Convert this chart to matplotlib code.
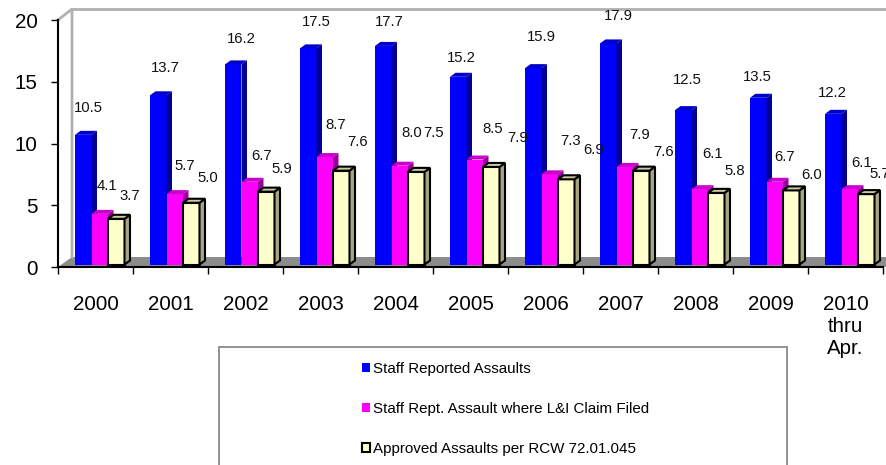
import matplotlib
matplotlib.use("Agg")
import numpy as np
import matplotlib.pyplot as plt
from matplotlib.patches import Patch, Polygon, Rectangle

plt.rcParams['font.family'] = ['Liberation Sans', 'DejaVu Sans']

# Data
years = ['2000', '2001', '2002', '2003', '2004', '2005', '2006', '2007', '2008',
         '2009', '2010\nthru\nApr.']
reported = [10.5, 13.7, 16.2, 17.5, 17.7, 15.2, 15.9, 17.9, 12.5, 13.5, 12.2]
claim = [4.1, 5.7, 6.7, 8.7, 8.0, 8.5, 7.3, 7.9, 6.1, 6.7, 6.1]
approved = [3.7, 5.0, 5.9, 7.6, 7.5, 7.9, 6.9, 7.6, 5.8, 6.0, 5.7]
names = ['Staff Reported Assaults', 'Staff Rept. Assault where L&I Claim Filed',
         'Approved Assaults per RCW 72.01.045']

# The labels were moved by hand in the original, offsets in pixels from the bar top
reported_off = [(5, 27), (7, 27), (8, 25), (8, 26), (6, 24), (3, 19), (8, 31), (10, 27),
                (4, 30), (-1, 21), (-1, 21)]
claim_off = [(7.5, 28), (10.5, 28), (12, 26), (10.5, 32), (11.5, 33), (17.5, 31),
             (20.5, 33), (14.5, 32), (12.5, 35), (9.5, 25), (11.5, 26)]
approved_off = [(14, 23), (17, 25), (16, 23), (16, 29), (17, 39), (26, 29), (27, 29),
                (22, 19), (19, 22), (20, 15), (14, 20)]

W, H = 886, 465
fig = plt.figure(figsize=(W / 100, H / 100), dpi=100)
ax = fig.add_axes([58 / W, (H - 267) / H, 825 / W, 247 / H])
ax.set_xlim(0, 11)
ax.set_ylim(0, 20)

# pixel sizes turned into data units
px = 11 / 825
py = 20 / 247
base = 2.5 * py
bar_w = 16.5 * px
dep_x, dep_y = 5.5 * px, 4 * py
wall_x, wall_y = 14 * px, 10 * py


def draw_walls():
    top = 20 + 11 * py
    ax.add_patch(Polygon([(0, 0), (wall_x, wall_y), (11.5, wall_y), (11.5, 0)],
                         fc='#8c8c8c', ec='none', clip_on=False, zorder=1))
    ax.plot([0, wall_x, wall_x], [20, top, wall_y], color='#b0b0b0', lw=2,
            clip_on=False, zorder=1)
    ax.plot([wall_x, 11.5], [top, top], color='#b0b0b0', lw=2, clip_on=False, zorder=1)


def draw_series(values, start, front, side, cap, edge, lw, offsets, z):
    x = np.arange(len(values)) + start * px
    ax.bar(x, values, bar_w, bottom=base, align='edge', color=front, edgecolor=edge,
           linewidth=lw, zorder=z)
    for xi, v, off in zip(x, values, offsets):
        y_top = v + base
        ax.add_patch(Polygon([(xi + bar_w, base), (xi + bar_w + dep_x, base + dep_y),
                              (xi + bar_w + dep_x, y_top + dep_y), (xi + bar_w, y_top)],
                             fc=side, ec=edge, lw=lw, zorder=z, clip_on=False))
        ax.add_patch(Polygon([(xi, y_top), (xi + dep_x, y_top + dep_y),
                              (xi + bar_w + dep_x, y_top + dep_y), (xi + bar_w, y_top)],
                             fc=cap, ec=edge, lw=lw, zorder=z, clip_on=False))
        ax.annotate('%.1f' % v, (xi + bar_w / 2, y_top), xytext=off,
                    textcoords='offset pixels', ha='center', va='center',
                    fontsize=10.7, color='#111111', zorder=10, annotation_clip=False)


draw_walls()
draw_series(reported, 17, '#0000ff', '#000099', '#0000cc', 'none', 0, reported_off, 3)
draw_series(claim, 33.5, '#ff00ff', '#990099', '#cc00cc', 'none', 0, claim_off, 4)
draw_series(approved, 50, '#ffffcc', '#a6a680', '#cccca0', 'black', 1.5, approved_off, 5)

# Axes
ax.set_facecolor('none')
for s in ['top', 'right']:
    ax.spines[s].set_visible(False)
for s in ['left', 'bottom']:
    ax.spines[s].set_linewidth(1.5)
    ax.spines[s].set_zorder(6)
ax.set_yticks(range(0, 21, 5))
ax.tick_params(axis='y', labelsize=14.8, length=5, width=1, pad=9.5)
ax.set_xticks(range(0, 12))
ax.set_xticklabels([])
ax.tick_params(axis='x', which='major', length=5, width=1)
ax.set_xticks(np.arange(len(years)) + 0.5, minor=True)
ax.set_xticklabels(years, minor=True, fontsize=14.8, linespacing=1.2)
ax.tick_params(axis='x', which='minor', length=0, pad=20.5)

# Legend, its box runs off the bottom of the picture
fig.add_artist(Rectangle((219 / W, -0.1), 568 / W, 0.1 + (H - 347) / H, fill=False,
                         ec='#7f7f7f', lw=1.2, transform=fig.transFigure))
handles = [Patch(fc='#0000ff', ec='none'), Patch(fc='#ff00ff', ec='none'),
           Patch(fc='#ffffcc', ec='black', lw=1.5)]
fig.legend(handles, names, loc='upper left', bbox_to_anchor=(362 / W, 1 - 362 / H),
           frameon=False, fontsize=10.9, handlelength=0.55, handleheight=0.55,
           handletextpad=0.2, labelspacing=1.72, borderpad=0, borderaxespad=0)

fig.savefig('out.png', dpi=100)
